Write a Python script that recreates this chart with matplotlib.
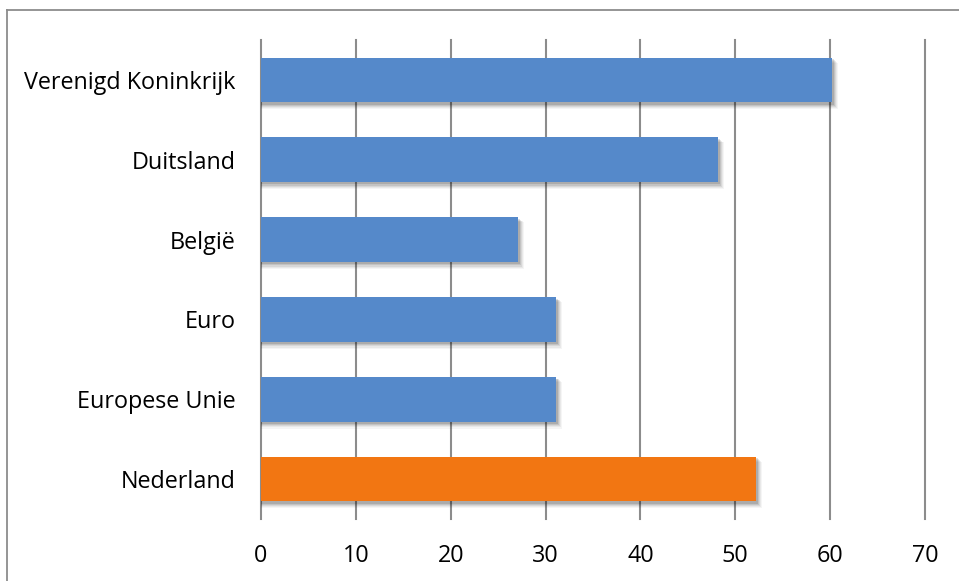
import matplotlib.pyplot as plt
from matplotlib.lines import Line2D

plt.rcParams['font.family'] = ['Open Sans', 'DejaVu Sans']

categories = ['Verenigd Koninkrijk', 'Duitsland', 'België', 'Euro', 'Europese Unie', 'Nederland']
values = [60.2, 48.2, 27.1, 31.1, 31.1, 52.2]
bar_colors = ['#5589CA', '#5589CA', '#5589CA', '#5589CA', '#5589CA', '#F27612']
xticks = [0, 10, 20, 30, 40, 50, 60, 70]

W, H = 959, 581
fig = plt.figure(figsize=(W / 100, H / 100), dpi=100)
ax = fig.add_axes([261 / W, 1 - 519 / H, (925 - 261) / W, (519 - 40) / H])

ypos = list(range(len(categories)))[::-1]
px = 70 / (925 - 261)  # data units per pixel in x
py = 6 / (519 - 40)    # data units per pixel in y

# soft drop shadow
for k, a in [(6, 0.04), (5, 0.05), (4, 0.07), (3, 0.09), (2, 0.12)]:
    ax.barh([y - k * py for y in ypos], [v + k * px for v in values], height=0.56 + 0.3 * k * py,
            left=0, color='black', alpha=a, zorder=2, linewidth=0)

ax.barh(ypos, values, height=0.56, color=bar_colors, zorder=3, linewidth=0)

ax.set_xlim(0, 70)
ax.set_ylim(-0.5, 5.5)
ax.set_xticks(xticks)
ax.set_yticks(ypos)
ax.set_yticklabels(categories)
ax.grid(axis='x', color='#8C8C8C', linewidth=1.5, zorder=1)
for gl in ax.get_xgridlines():
    gl.set_clip_on(False)
for s in ax.spines.values():
    s.set_visible(False)
ax.tick_params(axis='both', length=0, labelsize=16.8, colors='black')
ax.tick_params(axis='y', pad=18)
ax.tick_params(axis='x', pad=18)

# outer border (left and top)
fig.add_artist(Line2D([7 / W, 7 / W], [0, 1 - 10 / H], transform=fig.transFigure, color='#8C8C8C', linewidth=1.3))
fig.add_artist(Line2D([7 / W, 1], [1 - 10 / H, 1 - 10 / H], transform=fig.transFigure, color='#8C8C8C', linewidth=1.3))

fig.savefig('out.png', dpi=100)
